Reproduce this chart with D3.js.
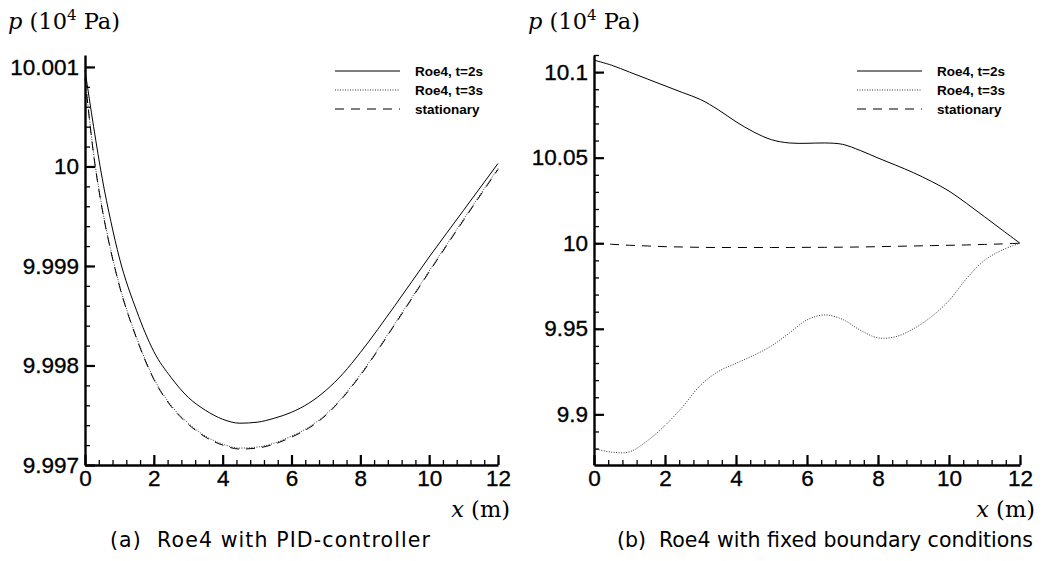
<!DOCTYPE html>
<html><head><meta charset="utf-8">
<script src="https://cdn.jsdelivr.net/npm/d3@7"></script>
<style>
body{margin:0;background:#fff;}
svg{display:block;}
</style></head>
<body>
<svg id="c" width="1043" height="561"></svg>
<script>
// ---------- data ----------
const xGrid = [0,0.25,0.5,0.75,1,1.5,2,2.5,3,3.5,4,4.5,5,5.5,6,6.5,7,7.5,8,9,10,11,12];
const pidT2 = [10.00097,10.00040,9.99988,9.99945,9.99908,9.99855,9.99814,9.99788,9.99768,9.99755,9.99746,9.99742,9.99743,9.99747,9.99753,9.99762,9.99775,9.99792,9.99813,9.99860,9.99909,9.99956,10.00003];
const pidT3 = [10.00090,10.00013,9.99958,9.99916,9.99881,9.99828,9.99787,9.99760,9.99742,9.99729,9.99721,9.99717,9.99718,9.99722,9.99729,9.99738,9.99751,9.99769,9.99791,9.99842,9.99895,9.99947,9.99998];
const pidStat = [10.00089,10.00012,9.99957,9.99915,9.99880,9.99827,9.99786,9.99759,9.99741,9.99728,9.99720,9.99716,9.99717,9.99721,9.99728,9.99737,9.99750,9.99768,9.99790,9.99841,9.99894,9.99946,9.99997];

const xGridB = [0,0.5,1,1.5,2,2.5,3,3.5,4,4.5,5,5.5,6,6.5,7,7.5,8,8.5,9,9.5,10,10.5,11,11.5,12];
const fixT2 = [10.107,10.104,10.100,10.096,10.092,10.088,10.084,10.078,10.071,10.065,10.0605,10.0586,10.0584,10.0586,10.0578,10.0542,10.0498,10.0456,10.0412,10.0362,10.0305,10.0232,10.0155,10.0077,10.0];
const fixT3 = [9.8800,9.8779,9.8781,9.8845,9.8935,9.9045,9.9170,9.9250,9.9298,9.9345,9.9400,9.9475,9.9552,9.9581,9.9555,9.9492,9.9447,9.9454,9.9500,9.9570,9.9665,9.9795,9.9900,9.9960,10.0000];
const fixStat = [10.0,9.9994,9.9988,9.9984,9.9980,9.9978,9.9976,9.9975,9.9975,9.9975,9.9975,9.9975,9.9976,9.9976,9.9977,9.9978,9.9980,9.9982,9.9984,9.9986,9.9988,9.9990,9.9993,9.9996,10.0];

const xTicks = [0,2,4,6,8,10,12];
const yTicksA = [9.997,9.998,9.999,10,10.001];
const yTickLabelsA = ["9.997","9.998","9.999","10","10.001"];
const yTicksB = [9.9,9.95,10,10.05,10.1];
const yTickLabelsB = ["9.9","9.95","10","10.05","10.1"];
const legendLabels = ["Roe4, t=2s","Roe4, t=3s","stationary"];
const captions = ["(a)  Roe4 with PID-controller","(b)  Roe4 with fixed boundary conditions"];

// ---------- drawing ----------
const svg = d3.select("#c");
const styles = [
  {dash:null, w:1, col:"#000"},
  {dash:"1,1.5", w:1, col:"#333"},
  {dash:"9,7", w:1, col:"#000"}
];

function panel(cfg){
  const g = svg.append("g");
  const x = d3.scaleLinear().domain([0,12]).range([cfg.x0,cfg.x1]);
  const y = d3.scaleLinear().domain(cfg.ydom).range([cfg.yb,cfg.yt]);

  // minor ticks
  g.append("g").attr("transform",`translate(0,${cfg.yb})`)
    .call(d3.axisBottom(x).tickValues(d3.range(0,12.001,0.4)).tickSize(-5).tickSizeOuter(0).tickFormat(""))
    .call(s=>s.select(".domain").remove())
    .call(s=>s.selectAll("line").attr("stroke-width",1.3));
  g.append("g").attr("transform",`translate(${cfg.x0},0)`)
    .call(d3.axisLeft(y).tickValues(cfg.minor).tickSize(-5).tickSizeOuter(0).tickFormat(""))
    .call(s=>s.select(".domain").remove())
    .call(s=>s.selectAll("line").attr("stroke-width",1.3));

  // major
  const ax = g.append("g").attr("transform",`translate(0,${cfg.yb})`)
    .call(d3.axisBottom(x).tickValues(xTicks).tickSize(-10).tickSizeOuter(0).tickPadding(5));
  const ay = g.append("g").attr("transform",`translate(${cfg.x0},0)`)
    .call(d3.axisLeft(y).tickValues(cfg.yticks).tickFormat((d,i)=>cfg.ylabels[i]).tickSize(-10).tickSizeOuter(0).tickPadding(6));
  [ax,ay].forEach(a=>{
    a.selectAll("text").attr("font-family","Liberation Sans, Arial, sans-serif").attr("font-size",22.5)
      .attr("fill","#000").attr("stroke","#000").attr("stroke-width",0.35);
    a.selectAll("line").attr("stroke","#000").attr("stroke-width",2.2);
    a.select(".domain").attr("stroke","#000").attr("stroke-width",2.4);
  });

  // curves
  const line = d3.line().x(d=>x(d[0])).y(d=>y(d[1])).curve(cfg.curve);
  cfg.series.forEach((vals,i)=>{
    const st = styles[i];
    g.append("path").datum(cfg.xs.map((xv,j)=>[xv,vals[j]]))
      .attr("d",line).attr("fill","none").attr("stroke",st.col)
      .attr("stroke-width",st.w).attr("stroke-dasharray",st.dash);
  });

  // legend
  legendLabels.forEach((lab,i)=>{
    const st = styles[i];
    const ly = cfg.legY + i*19;
    g.append("line").attr("x1",cfg.legX).attr("x2",cfg.legX+65).attr("y1",ly).attr("y2",ly)
      .attr("stroke",i===0?"#555":st.col).attr("stroke-width",i===0?1.3:1).attr("stroke-dasharray",st.dash);
    g.append("text").attr("x",cfg.legX+80).attr("y",ly+5).text(lab)
      .attr("font-family","Liberation Sans, Arial, sans-serif").attr("font-weight","bold").attr("font-size",13.5);
  });

  // axis titles
  const t = g.append("text").attr("x",cfg.pX).attr("y",29).attr("font-family","DejaVu Serif, serif").attr("font-size",22.5);
  t.append("tspan").attr("font-style","italic").text("p");
  t.append("tspan").text(" (10");
  t.append("tspan").attr("font-size",15).attr("dy",-9).text("4");
  t.append("tspan").attr("dy",9).text(" Pa)");

  const xt = g.append("text").attr("x",cfg.xLabX).attr("y",517).attr("text-anchor","end").attr("font-family","DejaVu Serif, serif").attr("font-size",22.5);
  xt.append("tspan").attr("font-style","italic").text("x");
  xt.append("tspan").text(" (m)");

  g.append("text").attr("x",cfg.capX).attr("y",547).attr("text-anchor","middle")
    .attr("font-family","DejaVu Sans, sans-serif").attr("font-size",20.5)
    .attr("textLength",cfg.capW).attr("lengthAdjust","spacing")
    .style("white-space","pre").text(cfg.caption);
}

panel({x0:85,x1:498,yb:465,yt:55,ydom:[9.997,10.00112],yticks:yTicksA,ylabels:yTickLabelsA,
  minor:d3.range(0,21).map(i=>9.997+i*0.0002),xs:xGrid,series:[pidT2,pidT3,pidStat],curve:d3.curveMonotoneX,
  legX:335,legY:71,pX:8,xLabX:510,capX:270,capW:320,caption:captions[0]});
panel({x0:594,x1:1020,yb:465,yt:55,ydom:[9.8704,10.110],yticks:yTicksB,ylabels:yTickLabelsB,
  minor:d3.range(0,24).map(i=>9.88+i*0.01),xs:xGridB,series:[fixT2,fixT3,fixStat],curve:d3.curveCatmullRom,
  legX:857,legY:71,pX:528,xLabX:1035,capX:825,capW:416,caption:captions[1]});
</script>
</body></html>
